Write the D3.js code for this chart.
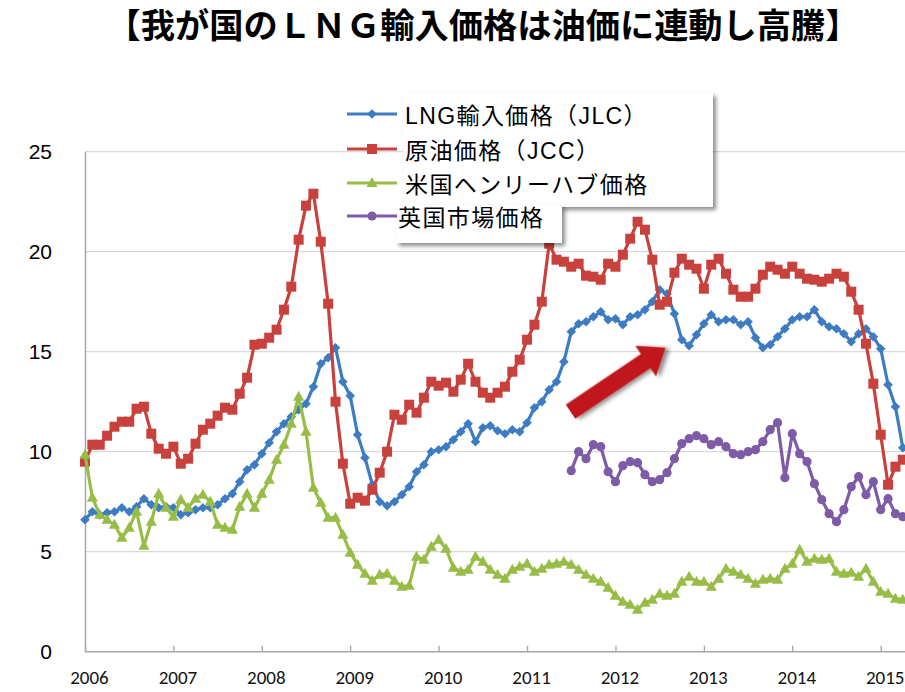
<!DOCTYPE html>
<html>
<head>
<meta charset="utf-8">
<script src="https://cdn.jsdelivr.net/npm/d3@7"></script>
<style>
  html, body { margin: 0; padding: 0; background: #fff; }
  svg { display: block; }
</style>
</head>
<body>
<div id="chart"></div>
<script>
// monthly values, Jan 2006 = index 0
const startYear = 2006
const yearTicks = [2006, 2007, 2008, 2009, 2010, 2011, 2012, 2013, 2014, 2015]
const valueTicks = [0, 5, 10, 15, 20, 25]

const seriesNames = ["LNG輸入価格（JLC）", "原油価格（JCC）", "米国ヘンリーハブ価格", "英国市場価格"]

const lngJlc = [
  6.6, 7.0, 6.85, 6.95, 7.0, 7.2, 7.0, 7.25, 7.65, 7.35, 7.2, 7.25, 7.2, 6.85, 6.95, 7.1, 7.2, 7.2, 7.35, 7.65,
  7.9, 8.5, 9.1, 9.35, 9.9, 10.45, 11.0,
  11.4, 11.75, 12.1, 12.4, 13.25, 14.4, 14.7, 15.2, 13.5, 12.8, 10.85, 9.7, 8.35, 7.5, 7.3, 7.5, 7.85, 8.25, 9.0, 9.35,
  10.0, 10.1, 10.25, 10.6, 11.0, 11.4,
  10.5, 11.2, 11.3, 11.05, 10.9, 11.1, 11.0, 11.45, 12.2, 12.5, 13.1, 13.5, 14.5, 16.0, 16.4, 16.5, 16.75, 17.0, 16.6, 16.65,
  16.35, 16.75, 16.85, 17.1, 17.5, 18.1, 17.9, 16.9,
  15.6, 15.3, 15.85, 16.4, 16.85, 16.5, 16.6, 16.6, 16.35, 16.5, 15.7, 15.2, 15.35, 15.75, 16.15, 16.6, 16.75, 16.75, 17.1, 16.5,
  16.25, 16.15, 15.9, 15.5, 15.9, 16.15, 15.75, 15.15, 13.35, 12.25, 10.2
]
const crudeJcc = [
  9.5, 10.35, 10.35, 10.8, 11.25, 11.5, 11.5, 12.15, 12.25, 10.9, 10.15, 9.9, 10.25, 9.4, 9.65, 10.4, 11.1, 11.4, 11.8, 12.2,
  12.1, 12.9, 13.7, 15.35, 15.4, 15.7, 16.1,
  17.1, 18.25, 20.6, 22.3, 22.9, 20.5, 17.4, 12.5, 9.4, 7.4, 7.7, 7.55, 8.1, 8.95, 10.0, 11.85, 11.6, 12.35, 11.95, 12.7,
  13.5, 13.3, 13.45, 13.0, 13.6, 14.4,
  13.5, 12.95, 12.7, 12.95, 13.25, 14.0, 14.6, 15.6, 16.35, 17.5, 20.4, 19.6, 19.5, 19.25, 19.4, 18.8, 18.75, 18.6, 19.4, 19.25,
  19.85, 20.65, 21.5, 21.1, 19.6, 17.35, 17.5, 18.95,
  19.65, 19.35, 19.15, 18.15, 19.35, 19.65, 18.9, 18.1, 17.75, 17.75, 18.15, 18.85, 19.25, 19.1, 18.9, 19.25, 18.9, 18.65, 18.6, 18.5,
  18.65, 18.9, 18.75, 18.0, 17.1, 15.4, 13.4, 10.85, 8.35, 9.25, 9.6
]
const henryHub = [
  9.85, 7.7, 6.85, 6.6, 6.35, 5.7, 6.2, 7.0, 5.3, 6.5, 7.9, 7.2, 6.75, 7.6, 7.2, 7.65, 7.85, 7.5, 6.35, 6.2,
  6.1, 7.25, 7.9, 7.2, 7.9, 8.6, 9.6,
  10.35, 11.4, 12.75, 11.0, 8.2, 7.45, 6.7, 6.7, 5.85, 4.95, 4.35, 3.9, 3.55, 3.85, 3.9, 3.55, 3.25, 3.3, 4.75, 4.6,
  5.25, 5.6, 5.15, 4.2, 4.0, 4.1,
  4.75, 4.5, 4.1, 3.85, 3.65, 4.1, 4.25, 4.4, 4.0, 4.15, 4.35, 4.4, 4.5, 4.35, 4.1, 3.85, 3.65, 3.5, 3.2, 2.8,
  2.5, 2.35, 2.1, 2.45, 2.6, 2.9, 2.8, 2.9,
  3.5, 3.75, 3.5, 3.5, 3.25, 3.65, 4.15, 4.0, 3.85, 3.65, 3.4, 3.6, 3.65, 3.6, 4.15, 4.4, 5.1, 4.5, 4.65, 4.6,
  4.65, 4.0, 3.9, 3.95, 3.75, 4.15, 3.5, 3.0, 2.9, 2.65, 2.6
]
// UK market price starts in Jul 2011 (index 66)
const ukStart = 66
const ukNbp = [
  9.05, 10.0, 9.65, 10.35, 10.25, 9.0, 8.5, 9.3, 9.5, 9.45, 8.85, 8.5, 8.6, 8.95, 9.65, 10.4, 10.65, 10.8, 10.65, 10.35,
  10.5, 10.25, 9.9, 9.85, 10.0, 10.1, 10.5, 11.1, 11.45, 8.7, 10.9, 9.9, 9.5, 8.4, 7.6, 6.9, 6.5, 7.1, 8.25, 8.75,
  7.85, 8.5, 7.1, 7.65, 6.9, 6.75
]

// annotation arrow, in data units (month index, value)
const arrowFrom = [65.9, 12.0]
const arrowTo = [78.8, 15.2]

const width = 905, height = 692

const svg = d3.select("#chart").append("svg")
    .attr("width", width)
    .attr("height", height)
    .attr("viewBox", "0 0 " + width + " " + height)

const defs = svg.append("defs")
const shadow = defs.append("filter").attr("id", "shadow")
    .attr("x", "-10%").attr("y", "-20%").attr("width", "130%").attr("height", "160%")
shadow.append("feDropShadow").attr("dx", 3).attr("dy", 3).attr("stdDeviation", 2)
    .attr("flood-color", "#000").attr("flood-opacity", 0.45)

const x = d3.scaleLinear().domain([2006, 2015]).range([85, 880.7])
const y = d3.scaleLinear().domain([0, 25]).range([651.7, 151.7])
const xm = (i) => x(startYear + i / 12)

// title
svg.append("text")
    .attr("x", 483).attr("y", 38)
    .attr("text-anchor", "middle")
    .attr("font-family", "'Noto Sans CJK JP'")
    .attr("font-weight", 700)
    .attr("font-size", 34)
    .attr("textLength", 753).attr("lengthAdjust", "spacingAndGlyphs")
    .attr("fill", "#000")
    .text("【我が国のＬＮＧ輸入価格は油価に連動し高騰】")

// gridlines
svg.append("g").selectAll("line").data(valueTicks.slice(1)).join("line")
    .attr("x1", x(2006)).attr("x2", width)
    .attr("y1", d => y(d)).attr("y2", d => y(d))
    .attr("stroke", "#d9d9d9").attr("stroke-width", 1.3)

// y axis
const yAxis = svg.append("g").attr("transform", "translate(" + x(2006) + ",0)")
    .call(d3.axisLeft(y).tickValues(valueTicks).tickSize(0).tickPadding(33))
yAxis.select(".domain").attr("stroke", "#a6a6a6").attr("stroke-width", 1.5)
yAxis.selectAll("text")
    .attr("font-family", "'Liberation Sans', Arial, sans-serif")
    .attr("font-size", 21).attr("fill", "#000")

// x axis
const xAxis = svg.append("g").attr("transform", "translate(0," + y(0) + ")")
    .call(d3.axisBottom(x).tickValues(yearTicks).tickFormat(d3.format("d"))
        .tickSize(-6).tickPadding(19))
xAxis.select(".domain").attr("d", "M" + x(2006) + ",0H" + width)
    .attr("stroke", "#a6a6a6").attr("stroke-width", 1.5)
xAxis.selectAll(".tick line").attr("stroke", "#a6a6a6").attr("stroke-width", 1.3)
xAxis.selectAll("text")
    .attr("dx", 4)
    .attr("font-family", "'Carlito', 'Liberation Sans', Arial, sans-serif")
    .attr("font-size", 19).attr("fill", "#111")

// series
const markers = {
    diamond: (g, c) => g.append("path").attr("d", "M0,-4.8L4.8,0L0,4.8L-4.8,0Z").attr("fill", c),
    square: (g, c) => g.append("rect").attr("x", -5).attr("y", -5).attr("width", 10).attr("height", 10).attr("fill", c),
    triangle: (g, c) => g.append("path").attr("d", "M0,-6L5.6,4L-5.6,4Z").attr("fill", c),
    circle: (g, c) => g.append("circle").attr("r", 4.6).attr("fill", c)
}

const series = [
    {name: seriesNames[0], values: lngJlc, start: 0, color: "#3d7cc2", marker: "diamond"},
    {name: seriesNames[1], values: crudeJcc, start: 0, color: "#c8413c", marker: "square"},
    {name: seriesNames[2], values: henryHub, start: 0, color: "#97bd47", marker: "triangle"},
    {name: seriesNames[3], values: ukNbp, start: ukStart, color: "#7d5ba6", marker: "circle"}
]

const line = d3.line().x(d => xm(d.i)).y(d => y(d.v))

series.forEach(s => {
    const pts = s.values.map((v, k) => ({i: s.start + k, v: v}))
    const g = svg.append("g")
    g.append("path").datum(pts)
        .attr("d", line)
        .attr("fill", "none")
        .attr("stroke", s.color)
        .attr("stroke-width", 3.2)
        .attr("stroke-linejoin", "round")
    g.selectAll("g").data(pts).join("g")
        .attr("transform", d => "translate(" + xm(d.i) + "," + y(d.v) + ")")
        .each(function () { markers[s.marker](d3.select(this), s.color) })
})

// arrow annotation
const ax0 = xm(arrowFrom[0]), ay0 = y(arrowFrom[1])
const ax1 = xm(arrowTo[0]), ay1 = y(arrowTo[1])
const alen = Math.hypot(ax1 - ax0, ay1 - ay0)
const aang = Math.atan2(ay1 - ay0, ax1 - ax0) * 180 / Math.PI
const bw = 8.5, hw = 18.5, hl = 24
svg.append("path")
    .attr("transform", "translate(" + ax0 + "," + ay0 + ") rotate(" + aang + ")")
    .attr("d", "M0," + (-bw) + "L" + (alen - hl) + "," + (-bw) + "L" + (alen - hl) + "," + (-hw) +
        "L" + alen + ",0L" + (alen - hl) + "," + hw + "L" + (alen - hl) + "," + bw + "L0," + bw + "Z")
    .attr("fill", "#c0161e")
    .attr("filter", "url(#shadow)")

// legend
const legendRows = [114, 149, 183, 216]
const legend = svg.append("g")
legend.append("rect").attr("x", 403).attr("y", 93).attr("width", 310).attr("height", 114)
    .attr("fill", "#fff").attr("filter", "url(#shadow)")
legend.append("rect").attr("x", 396).attr("y", 205).attr("width", 166).attr("height", 38)
    .attr("fill", "#fff").attr("filter", "url(#shadow)")

series.forEach((s, k) => {
    const ly = legendRows[k]
    legend.append("line").attr("x1", 347).attr("x2", 397).attr("y1", ly).attr("y2", ly)
        .attr("stroke", s.color).attr("stroke-width", 3.2)
    const mg = legend.append("g").attr("transform", "translate(372," + ly + ")")
    markers[s.marker](mg, s.color)
    legend.append("text")
        .attr("x", k == 3 ? 398 : 405).attr("y", ly + 10)
        .attr("font-family", "'Liberation Sans', 'Noto Sans CJK JP', sans-serif")
        .attr("font-size", 23).attr("letter-spacing", 1.4)
        .attr("fill", "#000")
        .text(s.name)
})
</script>
</body>
</html>
